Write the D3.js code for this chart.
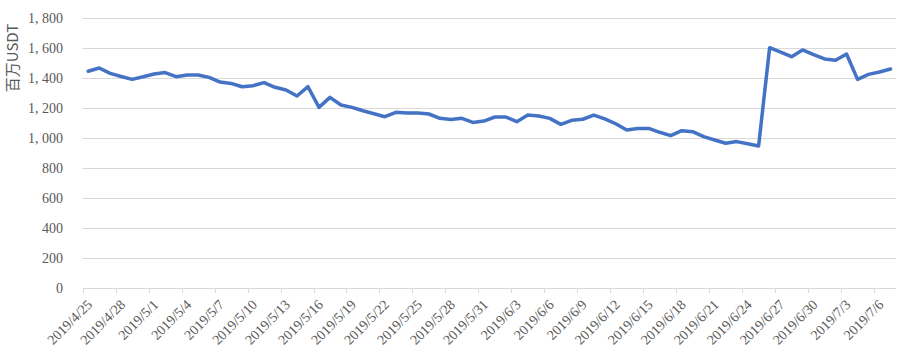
<!DOCTYPE html>
<html>
<head>
<meta charset="utf-8">
<script src="https://cdn.jsdelivr.net/npm/d3@7"></script>
<style>
  html, body { margin: 0; padding: 0; background: #fff; }
  svg { display: block; }
</style>
</head>
<body>
<svg id="chart" width="918" height="360"></svg>
<script>
// ---- data ----
const startDate = "2019-04-25";
const values = [1445,1467,1431,1410,1391,1408,1427,1436,1409,1420,1420,1404,1373,1364,1342,1349,1369,1338,1320,1280,1342,1204,1271,1220,1204,1182,1162,1142,1171,1167,1167,1160,1131,1124,1131,1104,1113,1140,1140,1109,1153,1147,1131,1091,1118,1125,1153,1128,1095,1053,1064,1064,1038,1016,1049,1042,1009,987,965,976,962,947,1602,1572,1542,1587,1556,1527,1518,1560,1391,1424,1440,1460];
const yTicks = [0,200,400,600,800,1000,1200,1400,1600,1800];
const yTitle = "百万USDT";

(function () {
const parse = d3.utcParse("%Y-%m-%d");
const d0 = parse(startDate);
const categories = values.map((v, i) => d3.utcDay.offset(d0, i));
const fmt = d => `${d.getUTCFullYear()}/${d.getUTCMonth() + 1}/${d.getUTCDate()}`;
const labelEvery = 3;

const svg = d3.select("#chart");
const mLeft = 82.7, mRight = 896, mTop = 18, mBottom = 288;
const serif = "'Liberation Serif', 'DejaVu Serif', 'Times New Roman', serif";

const x = d3.scaleBand().domain(categories.map(fmt)).range([mLeft, mRight]).padding(0);
const y = d3.scaleLinear().domain([0, 1800]).range([mBottom, mTop]);

const yFmt = v => v >= 1000 ? d3.format(",")(v).replace(",", ", ") : String(v);

// gridlines
svg.append("g")
  .selectAll("line")
  .data(yTicks.filter(t => t > 0))
  .join("line")
  .attr("x1", mLeft).attr("x2", mRight)
  .attr("y1", d => Math.round(y(d)) + 0.5).attr("y2", d => Math.round(y(d)) + 0.5)
  .attr("stroke", "#D9D9D9").attr("stroke-width", 1);

// y labels
svg.append("g")
  .selectAll("text")
  .data(yTicks)
  .join("text")
  .attr("x", 63).attr("y", d => y(d))
  .attr("dy", "0.35em")
  .attr("text-anchor", "end")
  .style("font-family", serif)
  .style("font-size", "14px")
  .style("white-space", "pre")
  .attr("fill", "#595959")
  .text(yFmt);

// y title
svg.append("text")
  .attr("transform", `translate(18, 58) rotate(-90)`)
  .attr("text-anchor", "middle")
  .style("font-family", "'Noto Sans CJK JP', 'Noto Sans CJK SC', sans-serif")
  .style("font-size", "15px")
  .attr("fill", "#595959")
  .text(yTitle);

// x axis
const xAxisG = svg.append("g");
xAxisG.append("line")
  .attr("x1", mLeft).attr("x2", mRight)
  .attr("y1", mBottom + 0.5).attr("y2", mBottom + 0.5)
  .attr("stroke", "#D9D9D9").attr("stroke-width", 1);

const labeled = categories.filter((d, i) => i % labelEvery === 0).map(fmt);
xAxisG.selectAll("line.tick")
  .data(labeled)
  .join("line")
  .attr("class", "tick")
  .attr("x1", d => Math.round(x(d)) + 0.5).attr("x2", d => Math.round(x(d)) + 0.5)
  .attr("y1", mBottom).attr("y2", mBottom + 5)
  .attr("stroke", "#D9D9D9").attr("stroke-width", 1);

xAxisG.selectAll("text.lbl")
  .data(labeled)
  .join("text")
  .attr("class", "lbl")
  .attr("transform", d => `translate(${x(d) + 7}, 302) rotate(-45)`)
  .attr("text-anchor", "end")
  .attr("dy", "0.35em")
  .style("font-family", serif)
  .style("font-size", "14px")
  .attr("fill", "#595959")
  .text(d => d);

// line
const line = d3.line()
  .x((v, i) => x(fmt(categories[i])) + x.bandwidth() / 2)
  .y(v => y(v));

svg.append("path")
  .datum(values)
  .attr("d", line)
  .attr("fill", "none")
  .attr("stroke", "#4472C4")
  .attr("stroke-width", 3.5)
  .attr("stroke-linejoin", "round")
  .attr("stroke-linecap", "round");
})();
</script>
</body>
</html>
